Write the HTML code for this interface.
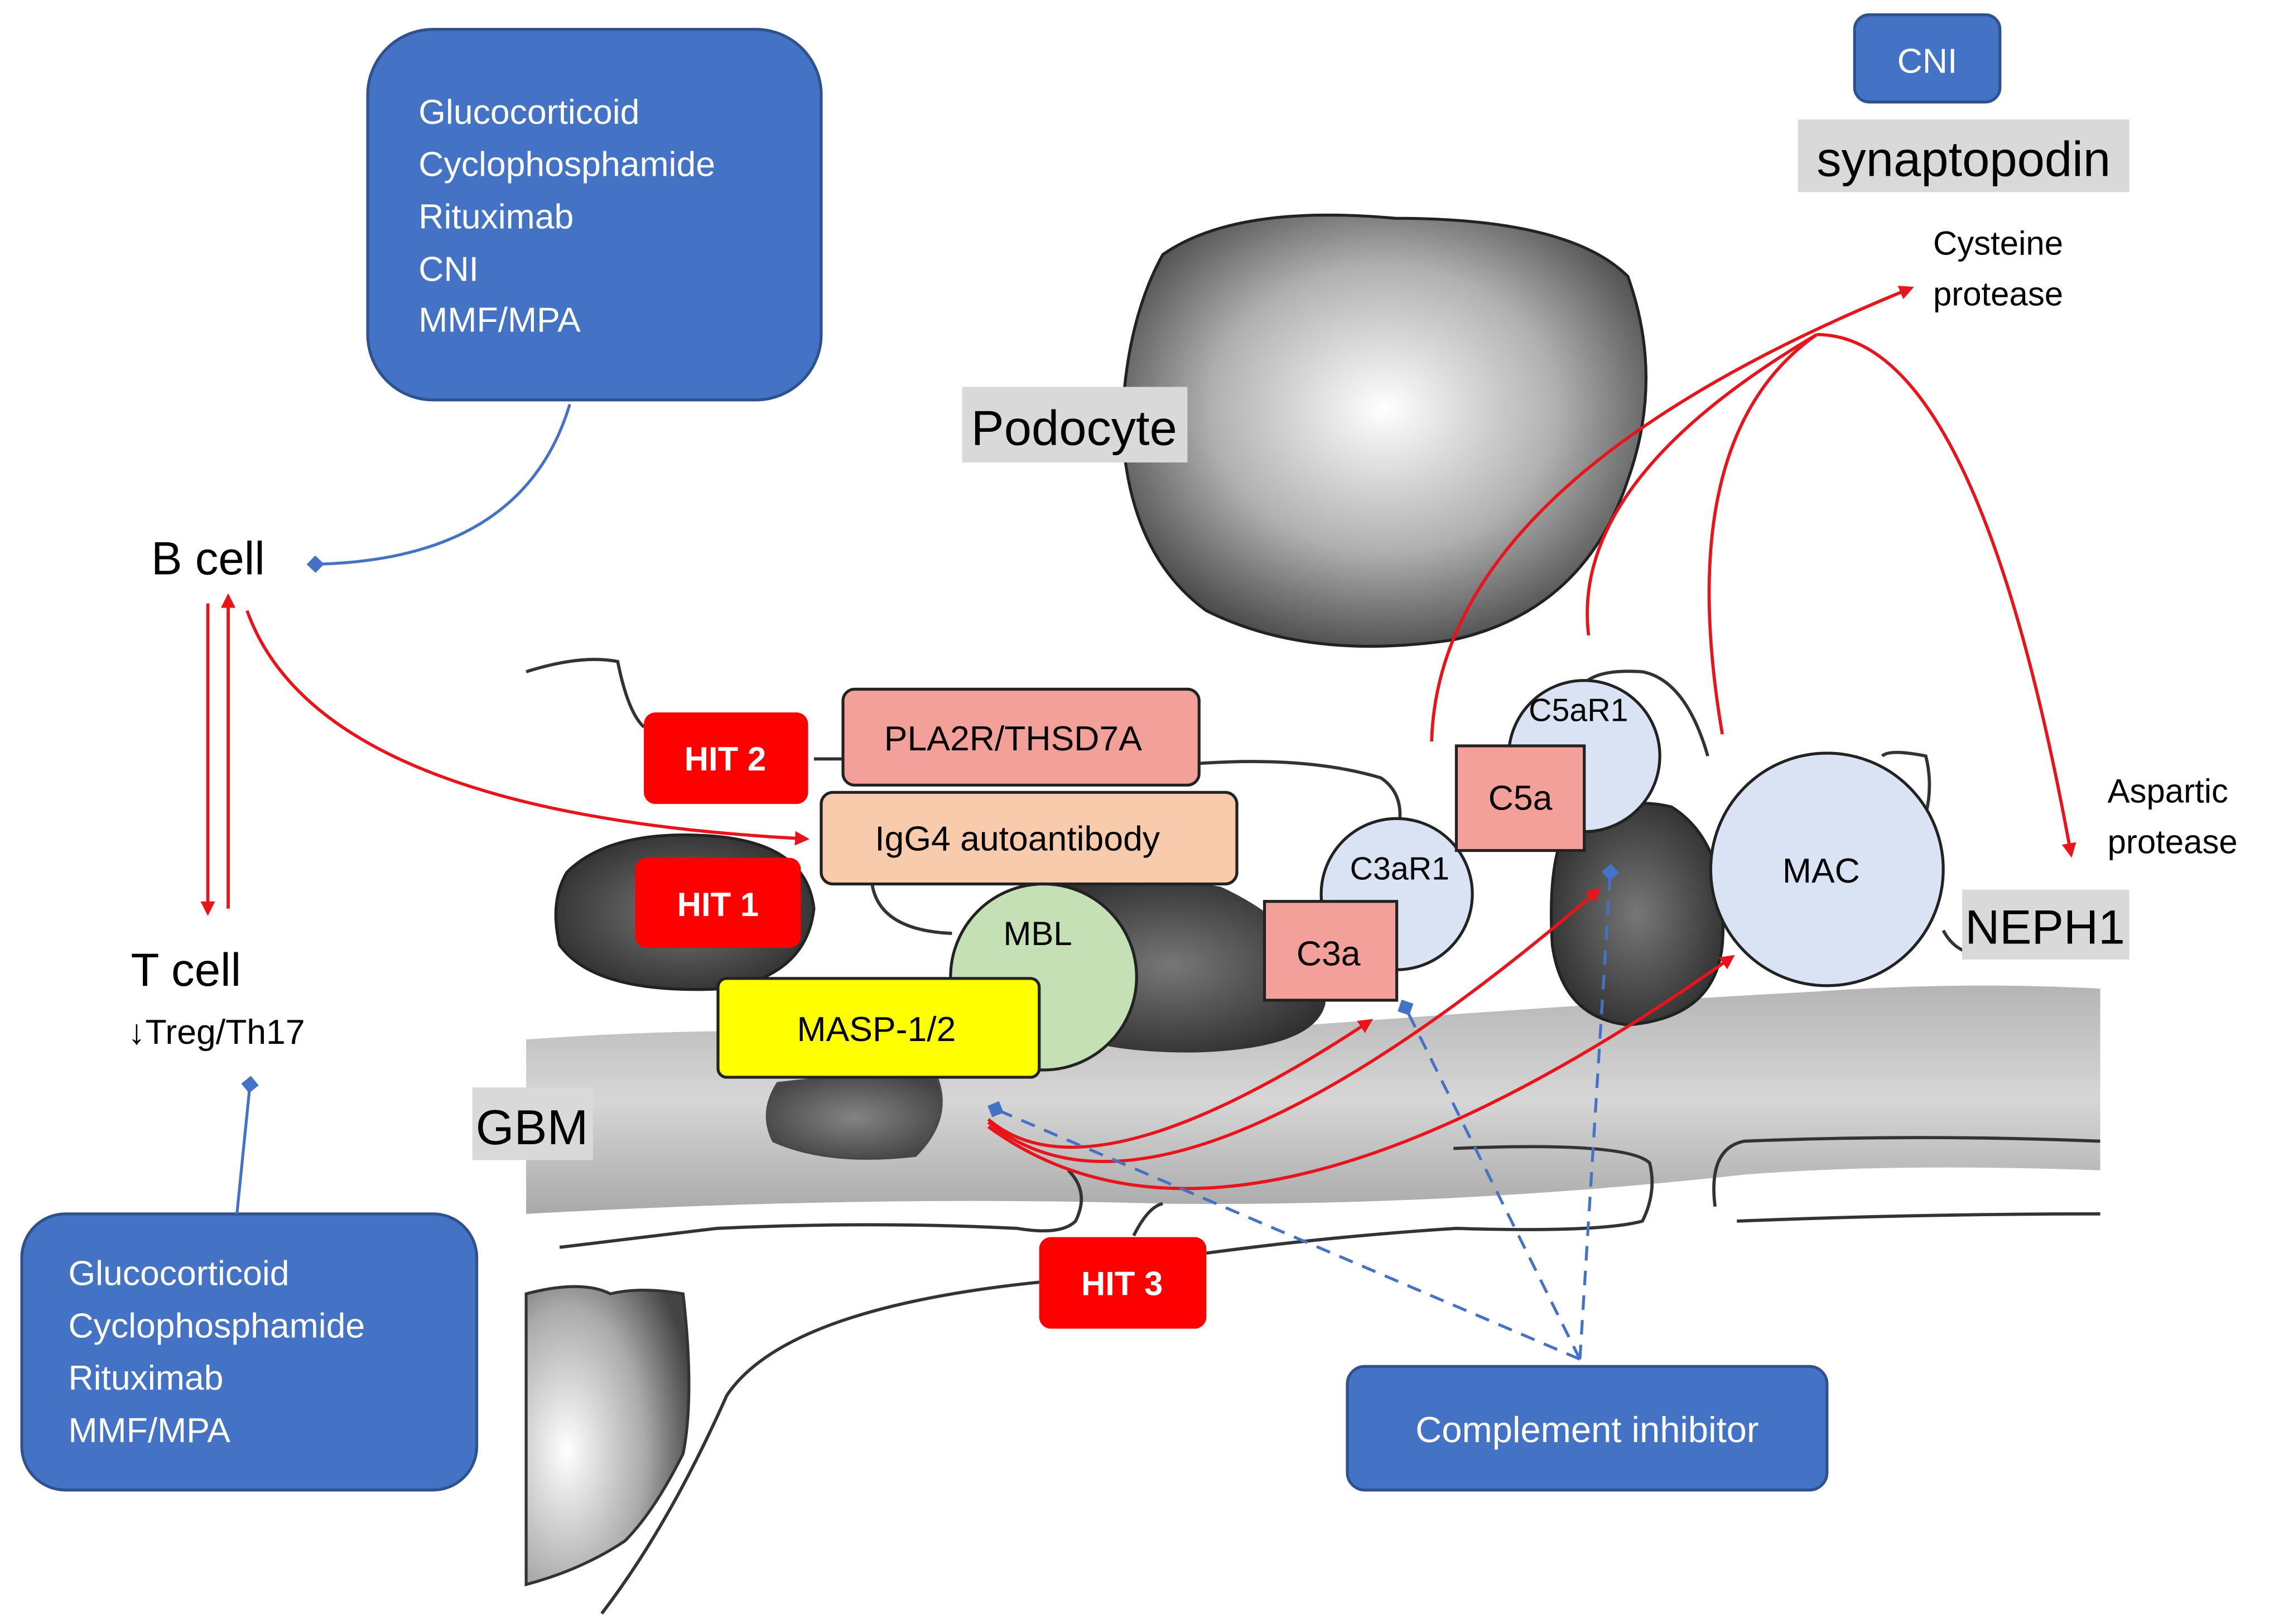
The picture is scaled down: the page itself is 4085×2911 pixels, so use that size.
<!DOCTYPE html>
<html><head><meta charset="utf-8"><style>
html,body{margin:0;padding:0;background:#fff;}
svg{display:block;}
text{font-family:"Liberation Sans","DejaVu Sans",sans-serif;}
</style></head><body>
<svg width="4085" height="2911" viewBox="0 0 1568 1117" xmlns="http://www.w3.org/2000/svg">
<defs>
<radialGradient id="pod" cx="0.5" cy="0.45" r="0.6"><stop offset="0" stop-color="#fff"/><stop offset="0.55" stop-color="#b0b0b0"/><stop offset="1" stop-color="#404040"/></radialGradient>
<radialGradient id="dk" cx="0.5" cy="0.5" r="0.6"><stop offset="0" stop-color="#777"/><stop offset="1" stop-color="#2a2a2a"/></radialGradient>
<radialGradient id="bl" cx="0.25" cy="0.55" r="0.8"><stop offset="0" stop-color="#fff"/><stop offset="0.6" stop-color="#aaa"/><stop offset="1" stop-color="#444"/></radialGradient>
<linearGradient id="gbm" x1="0" y1="0" x2="0" y2="1"><stop offset="0" stop-color="#b5b5b5"/><stop offset="0.5" stop-color="#d6d6d6"/><stop offset="1" stop-color="#a9a9a9"/></linearGradient>
<marker id="ar" markerWidth="10" markerHeight="10" refX="8" refY="5" orient="auto" markerUnits="userSpaceOnUse"><path d="M0,0 L10,5 L0,10 z" fill="#e8141c"/></marker>
<marker id="dm" markerWidth="12" markerHeight="12" refX="6" refY="6" orient="auto" markerUnits="userSpaceOnUse"><path d="M0,6 L6,0 L12,6 L6,12 z" fill="#4472C4"/></marker>
</defs>

<!-- GBM band -->
<path d="M362,715 Q500,705 640,712 Q800,720 900,705 Q1100,690 1250,682 Q1350,675 1445,680 L1445,805 Q1300,800 1200,808 Q1000,830 800,828 Q600,822 362,835 Z" fill="url(#gbm)"/>
<!-- cell outline lines -->
<g fill="none" stroke="#333" stroke-width="2.2">
<path d="M362,462 Q400,450 425,455 Q432,490 443,500"/>
<path d="M560,522 L580,522"/>
<path d="M826,525 Q900,520 950,535 Q965,545 963,565"/>
<path d="M1090,470 Q1100,460 1130,462 Q1160,468 1175,520"/>
<path d="M1295,520 Q1300,515 1325,520 Q1330,540 1325,560"/>
<path d="M1337,640 Q1345,655 1360,656"/>
<path d="M600,608 Q605,640 655,642"/>
<path d="M385,858 Q450,850 493,845 Q600,840 700,845 Q730,850 740,840 Q750,820 735,805"/>
<path d="M780,850 Q790,830 800,828"/>
<path d="M414,1110 Q460,1050 500,960 Q540,900 715,882"/>
<path d="M830,862 Q920,850 1002,845 Q1100,848 1130,840 Q1140,820 1135,800 Q1120,785 1000,790"/>
<path d="M1180,830 Q1175,790 1200,785 Q1320,780 1445,785"/>
<path d="M1195,840 Q1320,835 1445,835"/>
</g>
<!-- blobs -->
<path d="M800,175 Q850,140 960,150 Q1080,150 1120,190 Q1145,260 1120,330 Q1090,420 1000,440 Q900,455 830,420 Q775,380 772,290 Q775,220 800,175 Z" fill="url(#pod)" stroke="#222" stroke-width="2"/>
<path d="M390,600 Q420,570 490,575 Q555,580 560,625 Q555,670 500,680 Q410,685 385,650 Q378,620 390,600 Z" fill="url(#dk)" stroke="#222" stroke-width="2"/>
<path d="M700,612 Q780,598 840,610 Q905,640 912,690 Q905,722 820,724 Q740,724 720,700 Z" fill="url(#dk)"/>
<path d="M1075,575 Q1110,545 1150,555 Q1190,580 1185,650 Q1180,700 1120,705 Q1075,700 1068,650 Q1065,600 1075,575 Z" fill="url(#dk)" stroke="#222" stroke-width="2"/>
<path d="M535,745 Q590,738 645,742 Q655,770 630,795 Q570,802 532,785 Q522,765 535,745 Z" fill="url(#dk)" opacity="0.85" stroke="#333" stroke-width="1.5"/>
<path d="M362,890 Q400,880 420,890 Q440,885 470,890 Q478,960 470,1000 Q450,1040 430,1060 Q400,1080 362,1090 Z" fill="url(#bl)" stroke="#333" stroke-width="2"/>

<!-- labels gray -->
<rect x="662" y="266" width="155" height="52" fill="#d9d9d9"/>
<text x="739" y="306" font-size="34" text-anchor="middle">Podocyte</text>
<rect x="325" y="748" width="83" height="50" fill="#d9d9d9"/>
<text x="366" y="787" font-size="34" text-anchor="middle">GBM</text>
<rect x="1237" y="82" width="228" height="50" fill="#d9d9d9"/>
<text x="1351" y="121" font-size="34" text-anchor="middle">synaptopodin</text>
<rect x="1350" y="612" width="115" height="48" fill="#d9d9d9"/>
<text x="1407" y="649" font-size="33" text-anchor="middle">NEPH1</text>

<!-- Blue boxes -->
<rect x="253" y="20" width="312" height="255" rx="45" fill="#4472C4" stroke="#2F528F" stroke-width="2"/>
<g fill="#fff" font-size="24"><text x="288" y="85">Glucocorticoid</text><text x="288" y="121">Cyclophosphamide</text><text x="288" y="157">Rituximab</text><text x="288" y="193">CNI</text><text x="288" y="228">MMF/MPA</text></g>
<rect x="15" y="835" width="313" height="190" rx="30" fill="#4472C4" stroke="#2F528F" stroke-width="2"/>
<g fill="#fff" font-size="24"><text x="47" y="884">Glucocorticoid</text><text x="47" y="920">Cyclophosphamide</text><text x="47" y="956">Rituximab</text><text x="47" y="992">MMF/MPA</text></g>
<rect x="1276" y="10" width="100" height="60" rx="10" fill="#4472C4" stroke="#2F528F" stroke-width="2"/>
<text x="1326" y="50" fill="#fff" font-size="24" text-anchor="middle">CNI</text>
<rect x="927" y="940" width="330" height="85" rx="12" fill="#4472C4" stroke="#2F528F" stroke-width="2"/>
<text x="1092" y="992" fill="#fff" font-size="25" text-anchor="middle">Complement inhibitor</text>

<!-- blue connectors -->
<path d="M392,278 Q360,385 217,388" fill="none" stroke="#4472C4" stroke-width="2" marker-end="url(#dm)"/>
<path d="M163,835 L172,746" fill="none" stroke="#4472C4" stroke-width="2" marker-end="url(#dm)"/>

<!-- B/T cell -->
<text x="104" y="395" font-size="32">B cell</text>
<text x="90" y="678" font-size="32">T cell</text>
<text x="88" y="718" font-size="24">↓Treg/Th17</text>
<g fill="none" stroke="#e8141c" stroke-width="2.2">
<path d="M143,415 L143,628" marker-end="url(#ar)"/>
<path d="M157,625 L157,410" marker-end="url(#ar)"/>
<path d="M170,420 Q220,560 555,577" marker-end="url(#ar)"/>
</g>

<!-- boxes -->
<rect x="580" y="474" width="245" height="66" rx="8" fill="#F4A09A" stroke="#222" stroke-width="2"/>
<text x="697" y="516" font-size="24" text-anchor="middle">PLA2R/THSD7A</text>
<rect x="565" y="545" width="286" height="63" rx="8" fill="#F8CBAD" stroke="#222" stroke-width="2"/>
<text x="700" y="585" font-size="24" text-anchor="middle">IgG4 autoantibody</text>
<circle cx="718" cy="672" r="64" fill="#C5E0B4" stroke="#222" stroke-width="2"/>
<text x="714" y="650" font-size="23" text-anchor="middle">MBL</text>
<rect x="494" y="673" width="221" height="68" rx="6" fill="#FFFF00" stroke="#222" stroke-width="2"/>
<text x="603" y="716" font-size="24" text-anchor="middle">MASP-1/2</text>
<rect x="443" y="490" width="113" height="63" rx="8" fill="#FF0000"/>
<text x="499" y="530" font-size="23" font-weight="bold" fill="#fff" text-anchor="middle">HIT 2</text>
<rect x="437" y="590" width="114" height="62" rx="8" fill="#FF0000"/>
<text x="494" y="630" font-size="23" font-weight="bold" fill="#fff" text-anchor="middle">HIT 1</text>
<rect x="715" y="851" width="115" height="63" rx="8" fill="#FF0000"/>
<text x="772" y="891" font-size="23" font-weight="bold" fill="#fff" text-anchor="middle">HIT 3</text>

<circle cx="961" cy="615" r="52" fill="#DAE3F3" stroke="#222" stroke-width="2"/>
<text x="963" y="605" font-size="22" text-anchor="middle">C3aR1</text>
<circle cx="1090" cy="520" r="52" fill="#DAE3F3" stroke="#222" stroke-width="2"/>
<text x="1086" y="496" font-size="22" text-anchor="middle">C5aR1</text>
<circle cx="1257" cy="598" r="80" fill="#DAE3F3" stroke="#222" stroke-width="2"/>
<text x="1253" y="607" font-size="24" text-anchor="middle">MAC</text>
<rect x="870" y="620" width="91" height="68" fill="#F4A09A" stroke="#222" stroke-width="2"/>
<text x="914" y="664" font-size="24" text-anchor="middle">C3a</text>
<rect x="1002" y="513" width="88" height="72" fill="#F4A09A" stroke="#222" stroke-width="2"/>
<text x="1046" y="557" font-size="24" text-anchor="middle">C5a</text>

<!-- protease labels -->
<g font-size="23"><text x="1330" y="175">Cysteine</text><text x="1330" y="210">protease</text>
<text x="1450" y="552">Aspartic</text><text x="1450" y="587">protease</text></g>

<!-- red arrows -->
<g fill="none" stroke="#e8141c" stroke-width="2.2">
<path d="M680,770 Q750,830 943,702" marker-end="url(#ar)"/>
<path d="M680,772 Q800,870 1100,612" marker-end="url(#ar)"/>
<path d="M680,775 Q850,900 1192,658" marker-end="url(#ar)"/>
<path d="M985,510 Q990,330 1315,198" marker-end="url(#ar)"/>
<path d="M1093,437 Q1080,330 1250,230"/>
<path d="M1185,505 Q1150,300 1250,230"/>
<path d="M1250,230 Q1360,230 1425,588" marker-end="url(#ar)"/>
</g>
<!-- blue dashed -->
<g fill="none" stroke="#4472C4" stroke-width="2" stroke-dasharray="10,7">
<path d="M1087,935 L685,763" marker-end="url(#dm)"/>
<path d="M1087,935 L967,693" marker-end="url(#dm)"/>
<path d="M1087,935 L1108,600" marker-end="url(#dm)"/>
</g>
</svg>
</body></html>
